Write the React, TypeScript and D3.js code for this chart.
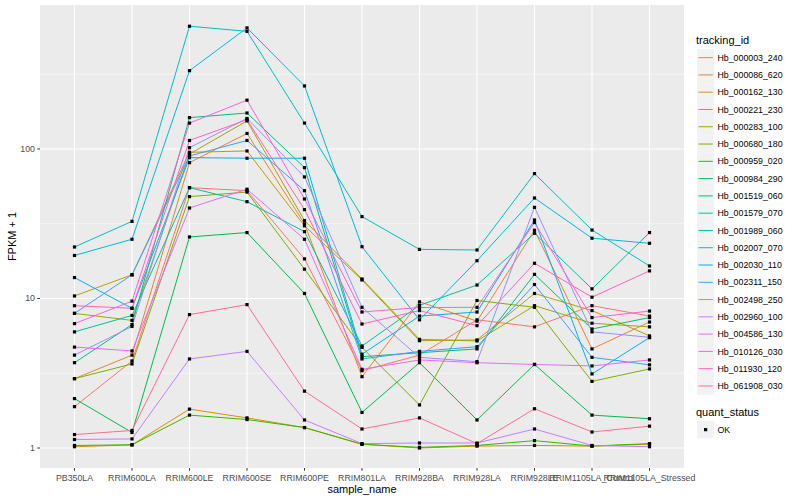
import React from 'react';
import * as d3 from 'd3';

const samples = [
  'PB350LA', 'RRIM600LA', 'RRIM600LE', 'RRIM600SE', 'RRIM600PE', 'RRIM801LA',
  'RRIM928BA', 'RRIM928LA', 'RRIM928LE', 'RRIM1105LA_Control', 'RRIM1105LA_Stressed',
];

const trackingIds = [
  'Hb_000003_240', 'Hb_000086_620', 'Hb_000162_130', 'Hb_000221_230', 'Hb_000283_100',
  'Hb_000680_180', 'Hb_000959_020', 'Hb_000984_290', 'Hb_001519_060', 'Hb_001579_070',
  'Hb_001989_060', 'Hb_002007_070', 'Hb_002030_110', 'Hb_002311_150', 'Hb_002498_250',
  'Hb_002960_100', 'Hb_004586_130', 'Hb_010126_030', 'Hb_011930_120', 'Hb_061908_030',
];

const palette = [
  '#F8766D', '#EA8331', '#D89000', '#C09B00', '#A3A500', '#7CAE00', '#39B600', '#00BB4E',
  '#00BF7D', '#00C1A3', '#00BFC4', '#00BAE0', '#00B0F6', '#35A2FF', '#9590FF', '#C77CFF',
  '#E76BF3', '#FA62DB', '#FF62BC', '#FF6C90',
];

// FPKM + 1 per sample (order of `samples`)
const Hb_000003_240 = [1.89, 3.82, 55.1, 52.6, 18.4, 3.29, 4.18, 7.2, 6.46, 8.95, 7.63];
const Hb_000086_620 = [2.91, 4.18, 81, 127, 31.6, 3.0, 9.5, 7.05, 28.6, 4.6, 6.96];
const Hb_000162_130 = [1.02, 1.05, 1.82, 1.59, 1.37, 1.06, 1.0, 1.03, 1.04, 1.03, 1.06];
const Hb_000221_230 = [10.4, 14.4, 95, 97, 30.6, 13.3, 5.22, 5.28, 10.8, 8.3, 5.62];
const Hb_000283_100 = [7.95, 7.14, 92.6, 154, 33.2, 13.5, 5.33, 5.2, 8.95, 6.83, 6.46];
const Hb_000680_180 = [2.91, 3.65, 48, 51.5, 15.7, 4.71, 1.94, 9.7, 8.73, 2.79, 3.38];
const Hb_000959_020 = [1.04, 1.05, 1.66, 1.55, 1.37, 1.06, 1.01, 1.04, 1.12, 1.03, 1.07];
const Hb_000984_290 = [2.14, 1.27, 25.8, 27.6, 10.8, 1.73, 3.72, 1.54, 3.62, 1.66, 1.57];
const Hb_001519_060 = [3.72, 6.69, 162, 174, 75, 4.08, 4.34, 4.6, 14.5, 6.25, 7.45];
const Hb_001579_070 = [5.98, 7.7, 55.1, 44.4, 28, 4.81, 9.0, 12.3, 27.3, 11.6, 27.6];
const Hb_001989_060 = [22.1, 32.8, 662, 612, 149, 35.3, 21.3, 21.1, 68.4, 28.7, 16.5];
const Hb_002007_070 = [19.4, 24.9, 334, 645, 264, 22.2, 7.2, 17.9, 47, 25.3, 23.4];
const Hb_002030_110 = [13.8, 8.6, 87.5, 86.7, 86.7, 4.24, 7.63, 8.12, 33.5, 3.13, 5.47];
const Hb_002311_150 = [7.95, 14.4, 89.9, 114, 52.6, 3.94, 4.43, 4.76, 12.4, 4.04, 3.6];
const Hb_002498_250 = [4.18, 6.5, 102, 160, 65, 8.73, 4.04, 3.78, 40.7, 5.98, 5.5];
const Hb_002960_100 = [1.14, 1.15, 3.94, 4.43, 1.54, 1.07, 1.08, 1.08, 1.34, 1.04, 1.02];
const Hb_004586_130 = [4.73, 4.46, 40.3, 53.8, 24.9, 3.36, 3.88, 3.72, 3.62, 3.54, 3.88];
const Hb_010126_030 = [6.79, 9.6, 149, 212, 46.3, 8.12, 8.7, 8.73, 32.2, 7.45, 8.24];
const Hb_011930_120 = [8.95, 8.6, 114, 157, 39.3, 6.75, 8.3, 6.58, 17.2, 10.2, 15.3];
const Hb_061908_030 = [1.23, 1.31, 7.8, 9.1, 2.4, 1.34, 1.59, 1.07, 1.83, 1.28, 1.4];

const seriesValues = [
  Hb_000003_240, Hb_000086_620, Hb_000162_130, Hb_000221_230, Hb_000283_100,
  Hb_000680_180, Hb_000959_020, Hb_000984_290, Hb_001519_060, Hb_001579_070,
  Hb_001989_060, Hb_002007_070, Hb_002030_110, Hb_002311_150, Hb_002498_250,
  Hb_002960_100, Hb_004586_130, Hb_010126_030, Hb_011930_120, Hb_061908_030,
];

const yTicks = [1, 10, 100];
const yTickLabels = ['1', '10', '100'];

const FONT = '"Liberation Sans", Arial, Helvetica, sans-serif';

export default function App() {
  const left = 40, right = 684, top = 5, bottom = 468;
  const x = d3.scalePoint<string>().domain(samples).range([left, right]).padding(0.6);
  const y = d3.scaleLog().domain([0.735, 918]).range([bottom, top]);
  const minor = yTicks.map((v) => v * Math.sqrt(10)).filter((v) => y(v) > top);

  const line = d3
    .line<number>()
    .x((_, i) => x(samples[i]) as number)
    .y((v) => y(v));

  const legendX = 697;
  const legendY0 = 49;
  const keyH = 17.28;

  return (
    <svg
      width={800}
      height={500}
      style={{ position: 'absolute', left: 0, top: 0, background: '#fff' }}
      fontFamily={FONT}
    >
      <rect x={0} y={0} width={800} height={500} fill="#fff" />
      <rect x={left} y={top} width={right - left} height={bottom - top} fill="#EBEBEB" />
      {minor.map((v) => (
        <line key={'mn' + v} x1={left} x2={right} y1={y(v)} y2={y(v)} stroke="#fff" strokeWidth={0.55} />
      ))}
      {yTicks.map((v) => (
        <line key={'mj' + v} x1={left} x2={right} y1={y(v)} y2={y(v)} stroke="#fff" strokeWidth={1.1} />
      ))}
      {samples.map((s) => (
        <line key={'vx' + s} x1={x(s)} x2={x(s)} y1={top} y2={bottom} stroke="#fff" strokeWidth={1.1} />
      ))}

      {seriesValues.map((vals, i) => (
        <path key={'l' + i} d={line(vals) as string} fill="none" stroke={palette[i]} strokeWidth={1} />
      ))}
      {seriesValues.map((vals, i) =>
        vals.map((v, j) => (
          <rect
            key={'p' + i + '_' + j}
            x={(x(samples[j]) as number) - 1.6}
            y={y(v) - 1.6}
            width={3.2}
            height={3.2}
            fill="#000"
          />
        )),
      )}

      {/* y axis */}
      {yTicks.map((v, i) => (
        <g key={'yt' + v}>
          <line x1={37.3} x2={left} y1={y(v)} y2={y(v)} stroke="#333" strokeWidth={1} />
          <text x={35} y={y(v) + 3} textAnchor="end" fontSize={8.8} fill="#4D4D4D">
            {yTickLabels[i]}
          </text>
        </g>
      ))}
      {/* x axis */}
      {samples.map((s) => (
        <g key={'xt' + s}>
          <line x1={x(s)} x2={x(s)} y1={bottom} y2={bottom + 2.7} stroke="#333" strokeWidth={1} />
          <text x={x(s)} y={480.5} textAnchor="middle" fontSize={8.8} fill="#4D4D4D">
            {s}
          </text>
        </g>
      ))}
      <text x={(left + right) / 2} y={492.5} textAnchor="middle" fontSize={11} fill="#000">
        sample_name
      </text>
      <text
        transform={`translate(15.5, ${(top + bottom) / 2}) rotate(-90)`}
        textAnchor="middle"
        fontSize={11}
        fill="#000"
      >
        FPKM + 1
      </text>

      {/* legend: tracking_id */}
      <text x={legendX - 1} y={44} fontSize={11} fill="#000">
        tracking_id
      </text>
      {trackingIds.map((id, i) => {
        const yy = legendY0 + i * keyH;
        return (
          <g key={'lg' + id}>
            <rect x={legendX} y={yy} width={keyH} height={keyH} fill="#F2F2F2" />
            <line
              x1={legendX + 1.5}
              x2={legendX + keyH - 1.5}
              y1={yy + keyH / 2}
              y2={yy + keyH / 2}
              stroke={palette[i]}
              strokeWidth={1}
            />
            <text x={legendX + keyH + 3.2} y={yy + keyH / 2 + 3.1} fontSize={8.8} fill="#000">
              {id}
            </text>
          </g>
        );
      })}

      {/* legend: quant_status */}
      <text x={legendX - 1} y={416} fontSize={11} fill="#000">
        quant_status
      </text>
      <rect x={legendX} y={421} width={keyH} height={keyH} fill="#F2F2F2" />
      <rect x={legendX + keyH / 2 - 1.6} y={421 + keyH / 2 - 1.6} width={3.2} height={3.2} fill="#000" />
      <text x={legendX + keyH + 3.2} y={421 + keyH / 2 + 3.1} fontSize={8.8} fill="#000">
        OK
      </text>
    </svg>
  );
}
